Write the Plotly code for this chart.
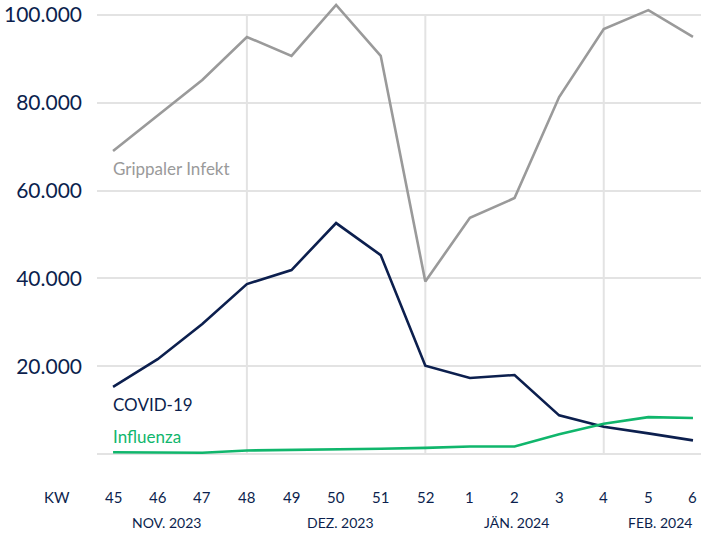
import plotly.graph_objects as go

weeks = ["45", "46", "47", "48", "49", "50", "51", "52", "1", "2", "3", "4", "5", "6"]
grippaler = [69000, 77200, 85200, 95000, 90700, 102300, 90700, 39300, 53800, 58300, 81300, 96800, 101100, 95000]
covid = [15300, 21600, 29600, 38700, 41900, 52600, 45300, 20100, 17300, 18000, 8800, 6200, 4700, 3100]
influenza = [400, 400, 300, 800, 900, 1000, 1200, 1400, 1700, 1700, 4500, 6900, 8400, 8200]
month_labels = ["NOV. 2023", "DEZ. 2023", "JÄN. 2024", "FEB. 2024"]
month_label_pos = [1.2, 5.1, 9.05, 12.25]
month_starts = ["48", "52", "4"]
y_ticks = [0, 20000, 40000, 60000, 80000, 100000]

GREY = "#9a9a9a"
NAVY = "#0c1f4e"
GREEN = "#10b66c"
GRID = "#e3e3e3"
FONT = "Lato"

x = list(range(len(weeks)))
fig = go.Figure()
for name, vals, col in [("Grippaler Infekt", grippaler, GREY),
                        ("COVID-19", covid, NAVY),
                        ("Influenza", influenza, GREEN)]:
    fig.add_trace(go.Scatter(x=x, y=vals, mode="lines", name=name,
                             line=dict(color=col, width=2.6), showlegend=False,
                             hoverinfo="skip"))

# vertical month separators
for w in month_starts:
    i = weeks.index(w)
    fig.add_shape(type="line", xref="x", yref="y", x0=i, x1=i, y0=0, y1=100000,
                  line=dict(color=GRID, width=2), layer="below")

annotations = []
# week tick labels
for i, w in enumerate(weeks):
    annotations.append(dict(x=i, y=0, xref="x", yref="paper", text=w, showarrow=False,
                            xanchor="center", yanchor="middle", yshift=-37,
                            font=dict(family=FONT, size=15, color=NAVY)))
annotations.append(dict(x=-0.066, y=0, xref="paper", yref="paper", text="KW", showarrow=False,
                        xanchor="center", yanchor="middle", yshift=-37,
                        font=dict(family=FONT, size=15, color=NAVY)))
for lab, pos in zip(month_labels, month_label_pos):
    annotations.append(dict(x=pos, y=0, xref="x", yref="paper", text=lab, showarrow=False,
                            xanchor="center", yanchor="middle", yshift=-62,
                            font=dict(family=FONT, size=14, color=NAVY)))
# series labels
for name, vals, col, shift in [("Grippaler Infekt", grippaler, GREY, -17),
                               ("COVID-19", covid, NAVY, -18),
                               ("Influenza", influenza, GREEN, 16)]:
    annotations.append(dict(x=0, y=vals[0], xref="x", yref="y", text=name, showarrow=False,
                            xanchor="left", yanchor="middle", yshift=shift, xshift=-2,
                            font=dict(family=FONT, size=17, color=col)))

fig.update_layout(
    width=701, height=533,
    margin=dict(l=97, r=0, t=0, b=73),
    plot_bgcolor="white", paper_bgcolor="white",
    separators=",.",
    annotations=annotations,
    xaxis=dict(range=[-0.36, 13.18], showgrid=False, zeroline=False,
               showticklabels=False, showline=False, fixedrange=True),
    yaxis=dict(range=[-1367, 103417], tickvals=y_ticks,
               ticktext=["" if v == 0 else f"{v:,}".replace(",", ".") for v in y_ticks],
               showgrid=True, gridcolor=GRID, gridwidth=2, zeroline=False,
               showline=False, ticks="", ticklabelstandoff=14,
               tickfont=dict(family=FONT, size=21, color=NAVY)),
)

fig.write_html("out.html", config={"displayModeBar": False},
               post_script="document.body.style.margin='0';document.body.style.overflow='hidden';")
